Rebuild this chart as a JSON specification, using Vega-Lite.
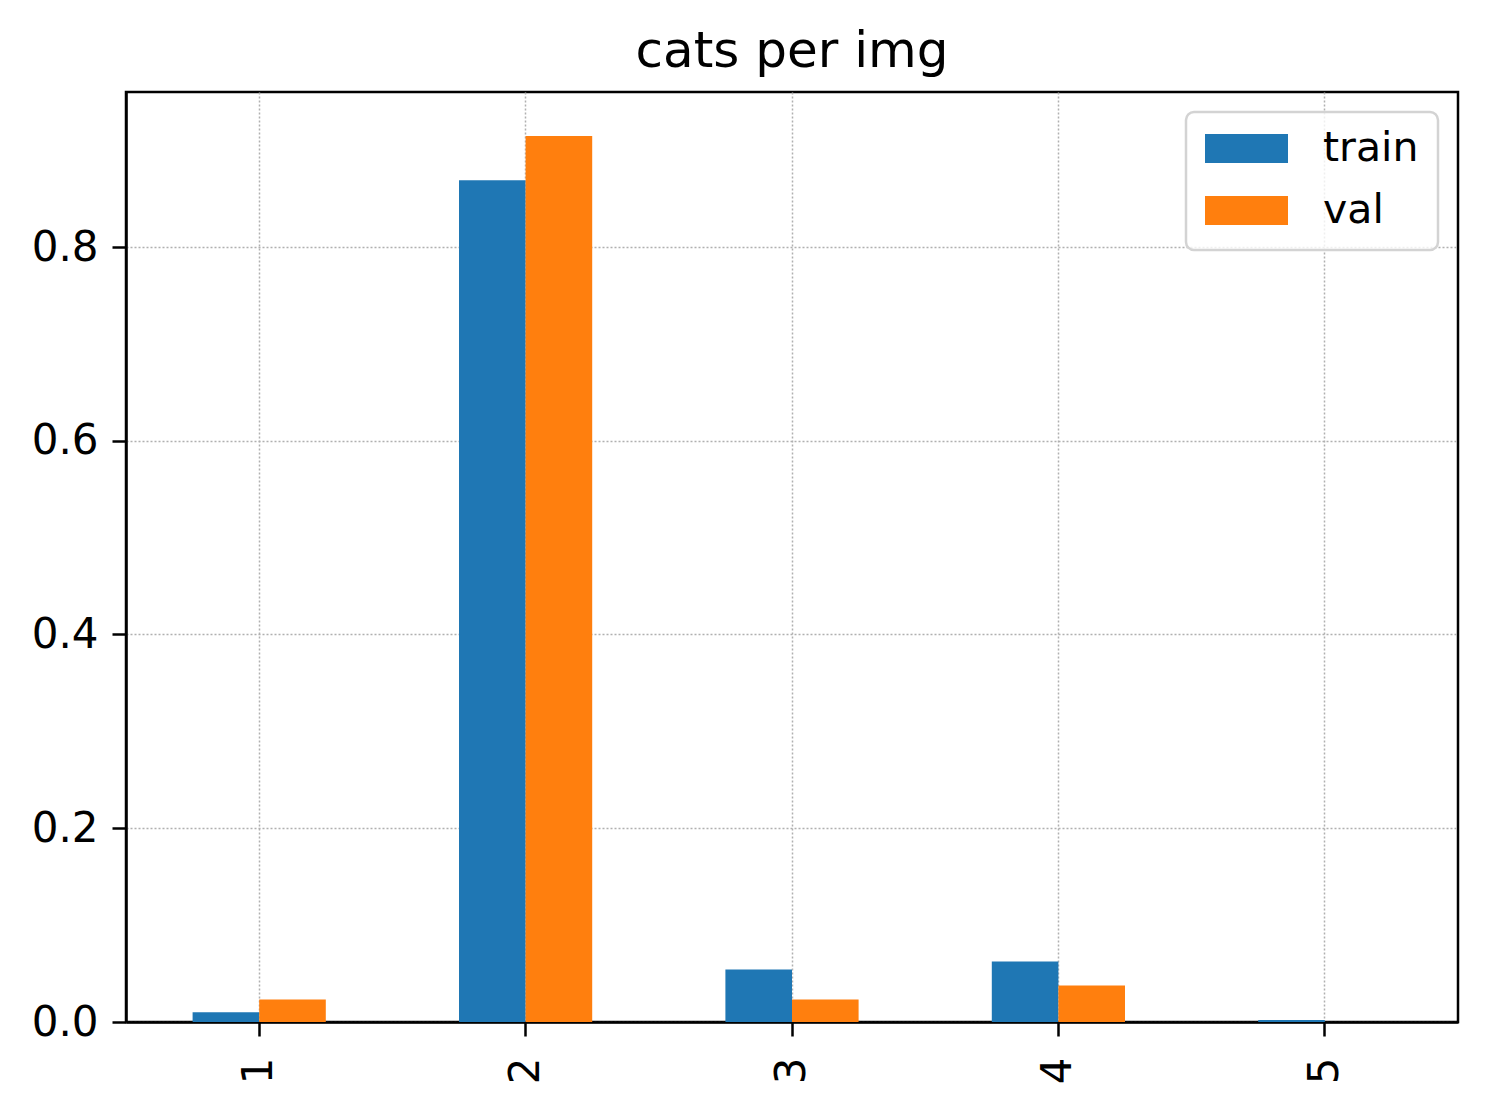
{
  "$schema": "https://vega.github.io/schema/vega-lite/v6.json",
  "description": "cats per img, train vs val share of images by number of categories",
  "autosize": "none",
  "padding": {"left": 126, "top": 92, "right": 30, "bottom": 86},
  "width": 1332,
  "height": 930,
  "background": "white",
  "title": {
    "text": "cats per img",
    "fontSize": 50,
    "font": "DejaVu Sans",
    "fontWeight": "normal",
    "color": "black",
    "anchor": "middle",
    "baseline": "alphabetic",
    "offset": -25
  },
  "config": {
    "font": "DejaVu Sans",
    "view": {"stroke": "black", "strokeWidth": 2.5},
    "axis": {
      "zindex": 1,
      "domainColor": "black",
      "domainWidth": 2.5,
      "tickColor": "black",
      "tickWidth": 2.5,
      "tickSize": 14,
      "labelFontSize": 42,
      "labelColor": "black",
      "labelFont": "DejaVu Sans",
      "gridColor": "#b0b0b0",
      "gridDash": [2, 2],
      "gridWidth": 1.5,
      "title": null
    },
    "legend": {
      "orient": "top-right",
      "offset": 20,
      "title": null,
      "labelFontSize": 41,
      "labelFont": "DejaVu Sans",
      "labelColor": "black",
      "labelOffset": 35,
      "symbolType": "M-1,-0.35H1V0.35H-1Z",
      "symbolSize": 6889,
      "symbolStrokeWidth": 0,
      "symbolOpacity": 1,
      "clipHeight": 35,
      "rowPadding": 20,
      "padding": 19,
      "fillColor": "rgba(255,255,255,0.8)",
      "strokeColor": "#d3d3d3",
      "strokeWidth": 2.5,
      "cornerRadius": 8
    }
  },
  "data": {
    "values": [
      {"n": "1", "split": "train", "frac": 0.0101},
      {"n": "1", "split": "val", "frac": 0.0232},
      {"n": "2", "split": "train", "frac": 0.869},
      {"n": "2", "split": "val", "frac": 0.9146},
      {"n": "3", "split": "train", "frac": 0.0542},
      {"n": "3", "split": "val", "frac": 0.0232},
      {"n": "4", "split": "train", "frac": 0.0625},
      {"n": "4", "split": "val", "frac": 0.0377},
      {"n": "5", "split": "train", "frac": 0.002},
      {"n": "5", "split": "val", "frac": 0.0}
    ]
  },
  "mark": {"type": "bar"},
  "encoding": {
    "x": {
      "field": "n",
      "type": "ordinal",
      "scale": {"paddingInner": 0.5, "paddingOuter": 0.25},
      "axis": {"labelAngle": 270, "labelPadding": 21, "grid": true}
    },
    "xOffset": {
      "field": "split",
      "type": "nominal",
      "scale": {"paddingInner": 0, "paddingOuter": 0}
    },
    "y": {
      "field": "frac",
      "type": "quantitative",
      "scale": {"domain": [0, 0.96], "nice": false},
      "axis": {"values": [0, 0.2, 0.4, 0.6, 0.8], "format": ".1f", "labelPadding": 14, "grid": true}
    },
    "color": {
      "field": "split",
      "type": "nominal",
      "scale": {"domain": ["train", "val"], "range": ["#1f77b4", "#ff7f0e"]}
    }
  }
}
